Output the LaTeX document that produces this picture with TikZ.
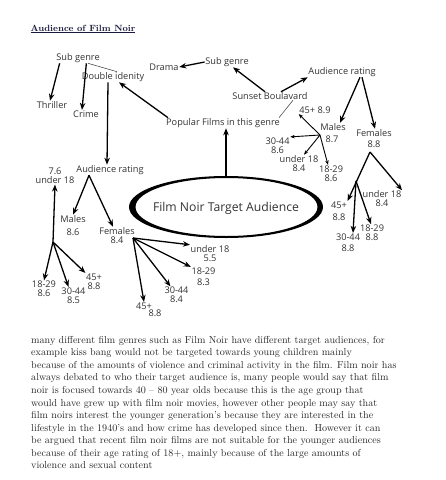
\documentclass[tikz,border=0pt]{standalone}
\usepackage{fontspec}
\usetikzlibrary{arrows.meta,shapes.geometric}
\newfontfamily\dfont{Open Sans}
\definecolor{txt}{HTML}{333333}
\definecolor{ttl}{HTML}{1A1A40}
\begin{document}
\begin{tikzpicture}[x=1pt,y=-1pt,
  lbl/.style={font=\dfont\fontsize{9.2}{9}\selectfont, text=txt, inner sep=0.5pt, align=center},
  arr/.style={-{Stealth[length=7pt,width=5.5pt]}, line width=1.3pt},
  sarr/.style={-{Stealth[length=4.5pt,width=3.5pt]}, line width=0.9pt},
  thin/.style={line width=0.5pt, draw=txt}]
\useasboundingbox (0,0) rectangle (446,480);
\fill[white] (0,0) rectangle (446,480);
% title
\node[font=\bfseries\fontsize{9}{10}\selectfont, text=ttl, inner sep=0pt] (title) at (83,29) {\underline{Audience of Film Noir}};
% top left
\node[lbl] (sg1) at (78,58) {Sub genre};
\node[lbl] (di) at (113,77) {Double idenity};
\node[lbl] (thr) at (52,105) {Thriller};
\node[lbl] (cri) at (86,114) {Crime};
\node[lbl] (dra) at (164,67) {Drama};
\node[lbl] (sg2) at (227,62) {Sub genre};
\node[lbl] (sb) at (270,96) {Sunset Boulavard};
\node[lbl] (arR) at (342,72) {Audience rating};
\node[lbl] (pop) at (223,123) {Popular Films in this genre};
% right males
\node[lbl] (m45) at (315,110) {45+ 8.9};
\node[lbl] (mal) at (333,127) {Males};
\node[lbl] (m87) at (332,139) {8.7};
\node[lbl] (m3044) at (277.5,145.5) {30-44\\8.6};
\node[lbl] (mu18) at (299,163.5) {under 18\\8.4};
\node[lbl] (m1829) at (331,173.5) {18-29\\8.6};
\coordinate (mhub) at (320,135);
% right females
\node[lbl, font=\dfont\fontsize{9.2}{11}\selectfont] (fem) at (374,138.5) {Females\\8.8};
\coordinate (fhub) at (370,152);
\coordinate (fbr) at (356,181);
\node[lbl] (fu18) at (382,199) {under 18\\8.4};
\node[lbl, font=\dfont\fontsize{9.2}{12}\selectfont] (f45) at (339,211) {45+\\8.8};
\node[lbl, font=\dfont\fontsize{9.2}{11}\selectfont] (f3044) at (348,242.5) {30-44\\8.8};
\node[lbl, font=\dfont\fontsize{9.2}{8.5}\selectfont] (f1829) at (372,232.5) {18-29\\8.8};
% ellipse
\fill[even odd rule] (226,207) ellipse [x radius=97, y radius=31] (226.5,207) ellipse [x radius=91, y radius=29];
\node[ellipse, minimum width=194pt, minimum height=62pt, inner sep=0pt,
  font=\dfont\fontsize{12.2}{13}\selectfont, text=txt] (ell) at (226,208) {Film Noir Target Audience};
% left
\node[lbl] (arL) at (110,170) {Audience rating};
\node[lbl] (lu18) at (55,176) {7.6\\under 18};
\node[lbl, font=\dfont\fontsize{9.2}{13}\selectfont] (maL) at (73,225.5) {Males\\8.6};
\node[lbl] (feL) at (117,235.5) {Females\\8.4};
\coordinate (lhub) at (53,242);
\coordinate (fLhub) at (133,238);
\node[lbl] (l1829) at (44,289) {18-29\\8.6};
\node[lbl] (l3044) at (73.5,295.5) {30-44\\8.5};
\node[lbl] (l45) at (94,281.5) {45+\\8.8};
\node[lbl] (b18) at (210,253.5) {under 18\\5.5};
\node[lbl, font=\dfont\fontsize{9.2}{11}\selectfont] (b1829) at (203.5,276.5) {18-29\\8.3};
\node[lbl] (b3044) at (176.5,295) {30-44\\8.4};
\node[lbl] (b45) at (144,306) {45+};
\node[lbl] (b45v) at (155,313) {8.8};
% connectors top
\draw[arr] (sg2.west) -- (dra.east);
\draw[arr] ([xshift=4pt]sg1.south west) -- ([xshift=-2pt]thr.north);
\draw[arr] ([xshift=-14pt]sg1.south east) -- ([xshift=-4pt]cri.north);
\draw[thin] ([xshift=4pt]di.north) -- ([xshift=10pt]sg1.south);
\draw[arr] ([xshift=-55pt]pop.north) -- ([xshift=6pt]di.south);
\draw[arr] ([xshift=-5pt]di.south) -- ([xshift=-3pt]arL.north);
\draw[arr] (ell.north) -- ([xshift=3pt]pop.south);
\draw[arr] ([xshift=-5pt]sb.north) -- ([xshift=6pt]sg2.south);
\draw[arr] ([xshift=11pt]sb.north) -- (arR.south west);
\draw[thin] ([xshift=23pt]sb.south) -- ([xshift=56pt]pop.north);
\draw[arr] ([xshift=18pt]arR.south) -- ([xshift=7pt]mal.north);
\draw[arr] ([xshift=20pt]arR.south) -- ([xshift=1pt]fem.north);
% males right
\draw[sarr] (mhub) -- (m45.south west);
\draw[sarr] (mhub) -- (m3044.north east);
\draw[sarr] (mhub) -- ([xshift=5pt]mu18.north);
\draw[sarr] (mhub) -- ([xshift=-3pt]m1829.north);
% females right
\draw[arr] (fhub) -- (fu18.north east);
\draw[arr] (fhub) -- (f45.north east);
\draw[arr] (fbr) -- ([xshift=5pt]f3044.north);
\draw[arr] (fbr) -- ([xshift=-1pt]f1829.north);
% left
\draw[arr] ([xshift=-21pt]arL.south) -- (maL.north);
\draw[arr] ([xshift=-21pt]arL.south) -- ([xshift=-4pt]feL.north);
\draw[arr] (lhub) -- (lu18.south);
\draw[arr] (lhub) -- (l1829.north);
\draw[arr] (lhub) -- ([xshift=-5pt]l3044.north);
\draw[arr] (lhub) -- (l45.north west);
\draw[arr] (fLhub) -- (b18.north west);
\draw[arr] (fLhub) -- (b1829.north west);
\draw[arr] (fLhub) -- ([xshift=-6pt]b3044.north);
\draw[arr] (fLhub) -- (b45.north);
% body text
\node[anchor=north west, inner sep=0pt, align=left, text=black!85,
  font=\fontsize{10.1}{12.55}\selectfont] (body) at (31,336) {many different film genres such as Film Noir have different target audiences, for\\
example kiss bang would not be targeted towards young children mainly\\
because of the amounts of violence and criminal activity in the film. Film noir has\\
always debated to who their target audience is, many people would say that film\\
noir is focused towards 40 -- 80 year olds because this is the age group that\\
would have grew up with film noir movies, however other people may say that\\
film noirs interest the younger generation's because they are interested in the\\
lifestyle in the 1940's and how crime has developed since then.\ \ However it can\\
be argued that recent film noir films are not suitable for the younger audiences\\
because of their age rating of 18+, mainly because of the large amounts of\\
violence and sexual content};
\end{tikzpicture}
\end{document}
